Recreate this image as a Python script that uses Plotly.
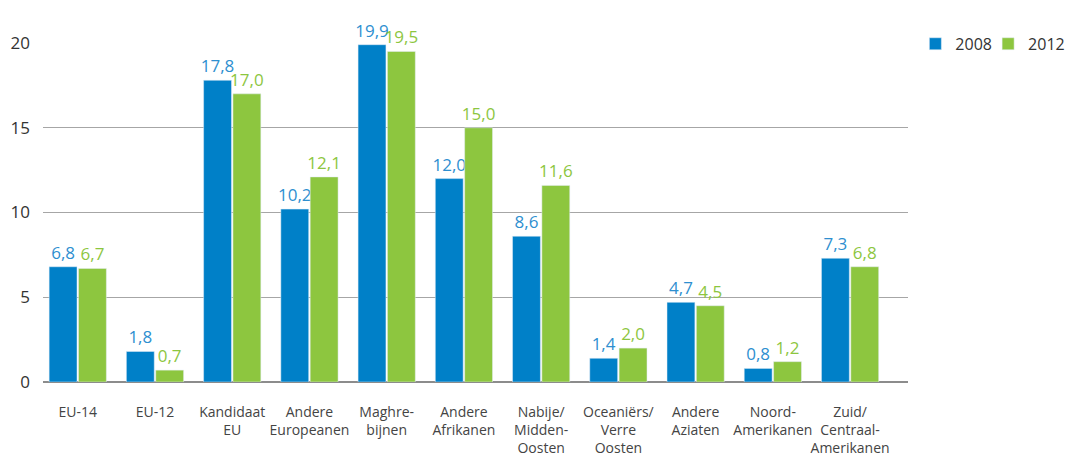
import plotly.graph_objects as go

categories = ["EU-14", "EU-12", "Kandidaat<br>EU", "Andere<br>Europeanen", "Maghre-<br>bijnen",
              "Andere<br>Afrikanen", "Nabije/<br>Midden-<br>Oosten", "Oceaniërs/<br>Verre<br>Oosten",
              "Andere<br>Aziaten", "Noord-<br>Amerikanen", "Zuid/<br>Centraal-<br>Amerikanen"]
values_2008 = [6.8, 1.8, 17.8, 10.2, 19.9, 12.0, 8.6, 1.4, 4.7, 0.8, 7.3]
values_2012 = [6.7, 0.7, 17.0, 12.1, 19.5, 15.0, 11.6, 2.0, 4.5, 1.2, 6.8]

blue = "#0080C8"
green = "#8DC63F"
font_family = "Open Sans, Noto Sans, sans-serif"


def fmt(v):
    return f"{v:.1f}".replace(".", ",")


fig = go.Figure()
fig.add_trace(go.Bar(
    name="2008", x=categories, y=values_2008, marker_color=blue, legend="legend",
    text=[fmt(v) for v in values_2008], textposition="outside", constraintext="none",
    textfont=dict(color="#2E8FD0", size=17, family=font_family), cliponaxis=False,
))
fig.add_trace(go.Bar(
    name="2012", x=categories, y=values_2012, marker_color=green, legend="legend2",
    text=[fmt(v) for v in values_2012], textposition="outside", constraintext="none",
    textfont=dict(color=green, size=17, family=font_family), cliponaxis=False,
))

legend_style = dict(xref="container", yref="container", xanchor="left", yanchor="middle",
                    y=0.92, font=dict(size=16, color="#333333"), bgcolor="rgba(0,0,0,0)")

# page body has an 8px margin, so the figure is offset by 8px
fig.update_layout(
    width=1070, height=448,
    margin=dict(l=35, r=170, t=35, b=74, autoexpand=False),
    plot_bgcolor="white", paper_bgcolor="white",
    barmode="group", bargap=0.24, bargroupgap=0.05,
    font=dict(family=font_family, color="#333333", size=14),
    showlegend=True,
    legend=dict(x=0.848, **legend_style),
    legend2=dict(x=0.916, **legend_style),
    xaxis=dict(range=[-0.45, 10.75], showgrid=False, ticks="", showline=False,
               tickangle=0, ticklabelstandoff=20, tickfont=dict(size=14, color="#444444")),
    yaxis=dict(range=[0, 20], dtick=5, showgrid=True, gridcolor="#A6A6A6", gridwidth=1,
               zeroline=True, zerolinecolor="#8C8C8C", zerolinewidth=1.5,
               ticks="", tickfont=dict(size=17, color="#333333"), ticklabelstandoff=12),
)

fig.write_html("out.html")
